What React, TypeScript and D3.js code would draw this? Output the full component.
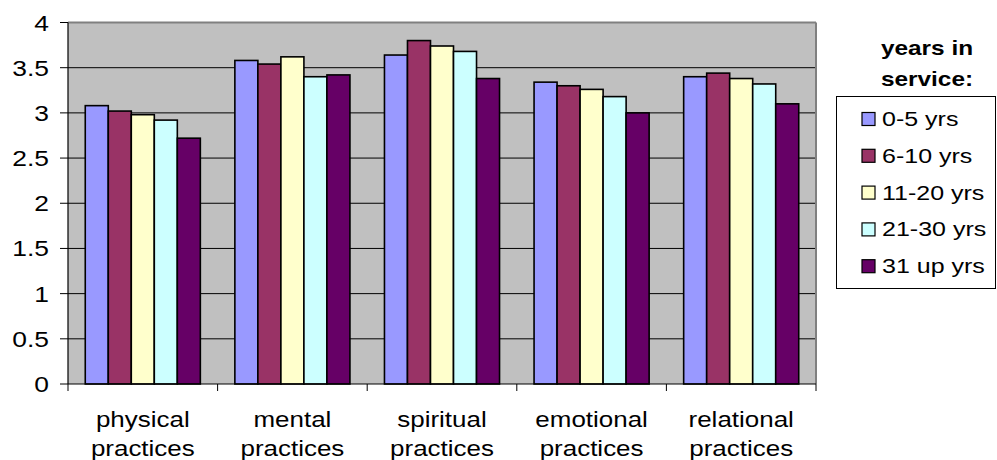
import React from "react";
import * as d3 from "d3";

const categories = [
  ["physical", "practices"],
  ["mental", "practices"],
  ["spiritual", "practices"],
  ["emotional", "practices"],
  ["relational", "practices"],
];
const seriesNames = ["0-5 yrs", "6-10 yrs", "11-20 yrs", "21-30 yrs", "31 up yrs"];
const seriesColors = ["#9999FF", "#993366", "#FFFFCC", "#CCFFFF", "#660066"];
const values0to5 = [3.08, 3.58, 3.64, 3.34, 3.4];
const values6to10 = [3.02, 3.54, 3.8, 3.3, 3.44];
const values11to20 = [2.98, 3.62, 3.74, 3.26, 3.38];
const values21to30 = [2.92, 3.4, 3.68, 3.18, 3.32];
const values31up = [2.72, 3.42, 3.38, 3.0, 3.1];
const yTicks = [0, 0.5, 1, 1.5, 2, 2.5, 3, 3.5, 4];
const legendTitle = ["years in", "service:"];

const series = [values0to5, values6to10, values11to20, values21to30, values31up];

const W = 997;
const H = 460;
const plot = { left: 68, right: 816, top: 22.5, bottom: 384 };
const font = "'Liberation Sans', Arial, sans-serif";

// Text drawn with a horizontal stretch around its anchor point
function Txt({
  x,
  y,
  sx = 1.2,
  anchor = "start",
  size = 22,
  weight = "normal",
  children,
}: {
  x: number;
  y: number;
  sx?: number;
  anchor?: string;
  size?: number;
  weight?: string;
  children: React.ReactNode;
}) {
  return (
    <text
      transform={`translate(${x},${y}) scale(${sx},1)`}
      textAnchor={anchor}
      fontSize={size}
      fontWeight={weight}
      fill="#000"
    >
      {children}
    </text>
  );
}

export default function App() {
  const x = d3
    .scaleBand<number>()
    .domain(d3.range(categories.length))
    .range([plot.left, plot.right])
    .paddingInner(0)
    .paddingOuter(0);
  const y = d3.scaleLinear().domain([0, 4]).range([plot.bottom, plot.top]);
  const bw = x.bandwidth();
  const barW = bw / (series.length + 1.5);
  const inner = d3
    .scaleBand<number>()
    .domain(d3.range(series.length))
    .range([barW * 0.75, bw - barW * 0.75]);

  return (
    <svg
      width={W}
      height={H}
      style={{ position: "absolute", left: 0, top: 0, display: "block", background: "#fff" }}
      fontFamily={font}
    >
      {/* plot area */}
      <rect
        x={plot.left}
        y={plot.top}
        width={plot.right - plot.left}
        height={plot.bottom - plot.top}
        fill="#C0C0C0"
      />
      {yTicks
        .filter((t) => t > 0 && t < 4)
        .map((t) => (
          <line
            key={`g${t}`}
            x1={plot.left}
            x2={plot.right}
            y1={y(t)}
            y2={y(t)}
            stroke="#000"
            strokeWidth={1}
          />
        ))}
      <line x1={plot.left} x2={plot.right} y1={plot.top} y2={plot.top} stroke="#808080" strokeWidth={2} />
      <line x1={plot.right} x2={plot.right} y1={plot.top} y2={plot.bottom} stroke="#808080" strokeWidth={2} />

      {/* bars */}
      {categories.map((_, ci) =>
        series.map((vals, si) => {
          const bx = (x(ci) as number) + (inner(si) as number);
          return (
            <rect
              key={`b${ci}-${si}`}
              x={bx}
              y={y(vals[ci])}
              width={inner.bandwidth()}
              height={y(0) - y(vals[ci])}
              fill={seriesColors[si]}
              stroke="#000"
              strokeWidth={1.6}
            />
          );
        })
      )}

      {/* axes */}
      <line x1={plot.left} x2={plot.left} y1={plot.top} y2={plot.bottom} stroke="#000" strokeWidth={1.2} />
      <line x1={plot.left} x2={plot.right} y1={plot.bottom} y2={plot.bottom} stroke="#000" strokeWidth={1.2} />
      {yTicks.map((t) => (
        <g key={`t${t}`}>
          <line x1={plot.left - 8} x2={plot.left} y1={y(t)} y2={y(t)} stroke="#000" strokeWidth={1} />
          <Txt x={49} y={y(t) + 8} anchor="end" sx={1.2}>
            {t}
          </Txt>
        </g>
      ))}
      {d3.range(categories.length + 1).map((i) => {
        const tx = plot.left + i * bw;
        return (
          <line key={`xt${i}`} x1={tx} x2={tx} y1={plot.bottom} y2={plot.bottom + 7} stroke="#000" strokeWidth={1} />
        );
      })}
      {categories.map((lines, ci) =>
        lines.map((l, li) => (
          <Txt key={`c${ci}-${li}`} x={(x(ci) as number) + bw / 2} y={427 + li * 29} anchor="middle" sx={1.18}>
            {l}
          </Txt>
        ))
      )}

      {/* legend */}
      {legendTitle.map((l, i) => (
        <Txt key={`lt${i}`} x={927} y={55 + i * 31} anchor="middle" size={20} weight="bold" sx={1.22}>
          {l}
        </Txt>
      ))}
      <rect x={836.5} y={96.5} width={159} height={192} fill="#fff" stroke="#000" strokeWidth={1} />
      {seriesNames.map((n, i) => {
        const cy = 119 + i * 36.8;
        return (
          <g key={`l${i}`}>
            <rect x={862} y={cy - 6.5} width={13} height={13} fill={seriesColors[i]} stroke="#000" strokeWidth={1.2} />
            <Txt x={882} y={cy + 7} size={20.5} sx={1.22}>
              {n}
            </Txt>
          </g>
        );
      })}
    </svg>
  );
}
